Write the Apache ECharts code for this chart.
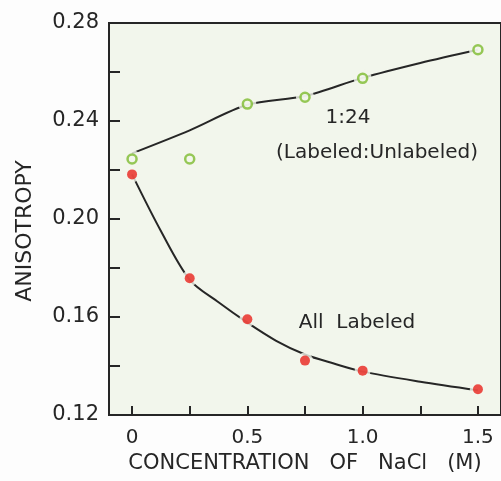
<!DOCTYPE html>
<html>
<head>
<meta charset="utf-8">
<script src="https://cdn.jsdelivr.net/npm/echarts@6/dist/echarts.min.js"></script>
<style>html,body{margin:0;padding:0;background:#fdfdfd;}#c{width:501px;height:481px;}</style>
</head>
<body>
<div id="c"></div>
<script>
// Measured points
const concentration = [0, 0.25, 0.5, 0.75, 1.0, 1.5];
const mixedAnisotropy = [0.2245, 0.2245, 0.2469, 0.2497, 0.2574, 0.2691];   // 1:24 (open green)
const allLabeledAnisotropy = [0.2182, 0.1758, 0.1591, 0.1422, 0.1381, 0.1305]; // all labeled (red)
// Fitted curves as drawn in the figure
const mixedCurveX = [0, 0.25, 0.5, 0.75, 1.0, 1.25, 1.5];
const mixedCurve = [0.2268, 0.2362, 0.2466, 0.2502, 0.2576, 0.2637, 0.2691];
const allLabeledCurveX = [0, 0.125, 0.25, 0.375, 0.5, 0.625, 0.75, 0.875, 1.0, 1.25, 1.5];
const allLabeledCurve = [0.2182, 0.1951, 0.1752, 0.1660, 0.1577, 0.1503, 0.1447, 0.1410, 0.1377, 0.1336, 0.1301];
// Axis ticks / labels
const xTickValues = [0, 0.25, 0.5, 0.75, 1.0, 1.25, 1.5];
const xLabelValues = [0, 0.5, 1.0, 1.5];
const yLabelValues = [0.12, 0.16, 0.20, 0.24, 0.28];

const zip = (xs, ys) => xs.map((x, i) => [x, ys[i]]);
const bg = '#f2f6ec';
const ink = '#262626';
const font = 'DejaVu Sans';

const chart = echarts.init(document.getElementById('c'), null, {renderer: 'canvas'});
chart.setOption({
  backgroundColor: '#fdfdfd',
  animation: false,
  grid: {left: 109, top: 23, bottom: 66, right: -3, show: true, backgroundColor: bg, borderColor: ink, borderWidth: 2},
  xAxis: {
    type: 'value', min: -0.1, max: 1.6,
    name: 'CONCENTRATION   OF   NaCl   (M)', nameLocation: 'middle', nameGap: 36,
    nameTextStyle: {fontFamily: font, fontSize: 21, color: ink},
    axisLine: {show: true, onZero: false, lineStyle: {color: ink, width: 2}},
    axisTick: {show: true, inside: true, length: 9, lineStyle: {color: ink, width: 2}, customValues: xTickValues},
    axisLabel: {fontFamily: font, fontSize: 20, color: ink, margin: 13, customValues: xLabelValues,
      formatter: v => v === 0 ? '0' : v.toFixed(1)},
    splitLine: {show: false}
  },
  yAxis: {
    type: 'value', min: 0.12, max: 0.28, interval: 0.02,
    name: 'ANISOTROPY', nameLocation: 'middle', nameGap: 73,
    nameTextStyle: {fontFamily: font, fontSize: 22, color: ink, padding: [0, 24, 0, 0]},
    axisLine: {show: true, onZero: false, lineStyle: {color: ink, width: 2}},
    axisTick: {show: true, inside: true, length: 11, lineStyle: {color: ink, width: 2}},
    axisLabel: {fontFamily: font, fontSize: 21, color: ink, margin: 10, customValues: yLabelValues,
      formatter: v => v.toFixed(2)},
    splitLine: {show: false}
  },
  series: [
    {type: 'line', data: zip(mixedCurveX, mixedCurve), smooth: 0.3, symbol: 'none', lineStyle: {color: ink, width: 2}, z: 1},
    {type: 'line', data: zip(allLabeledCurveX, allLabeledCurve), smooth: 0.3, symbol: 'none', lineStyle: {color: ink, width: 2}, z: 1},
    {type: 'scatter', data: zip(concentration, mixedAnisotropy), symbol: 'circle', symbolSize: 18, itemStyle: {color: bg}, z: 2, silent: true},
    {type: 'scatter', data: zip(concentration, allLabeledAnisotropy), symbol: 'circle', symbolSize: 16, itemStyle: {color: bg}, z: 2, silent: true},
    {type: 'scatter', name: '1:24', data: zip(concentration, mixedAnisotropy), symbol: 'circle', symbolSize: 9,
      itemStyle: {color: bg, borderColor: '#7dbb2f', borderWidth: 2.5}, z: 3},
    {type: 'scatter', name: 'All Labeled', data: zip(concentration, allLabeledAnisotropy), symbol: 'circle', symbolSize: 10,
      itemStyle: {color: '#e8231d'}, z: 3}
  ],
  graphic: [
    {type: 'text', x: 348, y: 118, style: {text: '1:24', font: '20px "DejaVu Sans"', fill: ink, textAlign: 'center', textVerticalAlign: 'middle'}, z: 10},
    {type: 'text', x: 377, y: 153, style: {text: '(Labeled:Unlabeled)', font: '20px "DejaVu Sans"', fill: ink, textAlign: 'center', textVerticalAlign: 'middle'}, z: 10},
    {type: 'text', x: 357, y: 323, style: {text: 'All  Labeled', font: '20px "DejaVu Sans"', fill: ink, textAlign: 'center', textVerticalAlign: 'middle'}, z: 10}
  ]
});
</script>
</body>
</html>
